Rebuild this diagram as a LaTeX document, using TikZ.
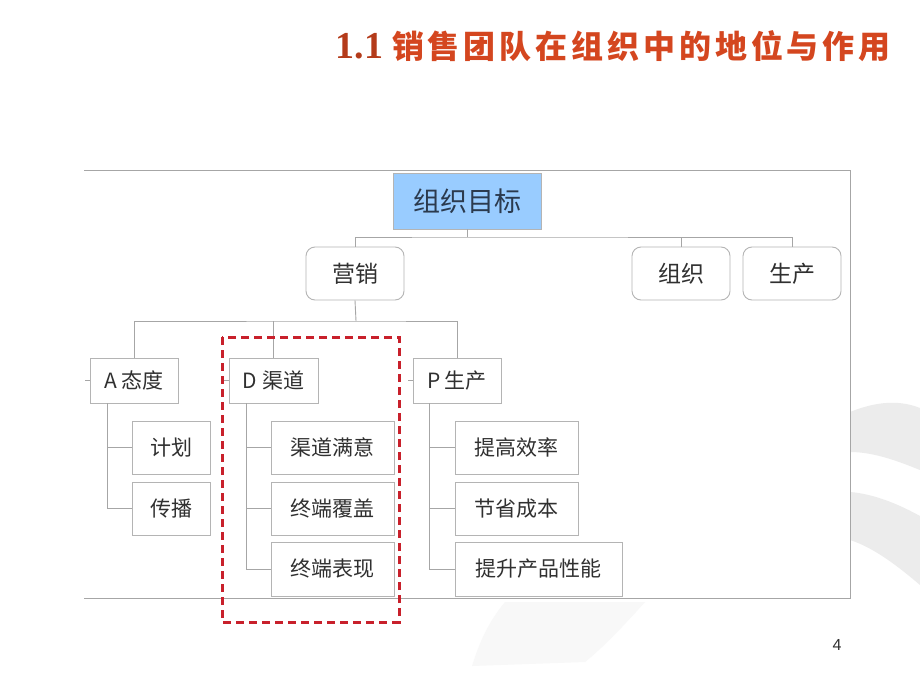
\documentclass[tikz,border=0pt]{standalone}
\usepackage{fontspec}
\setmainfont{Liberation Sans}
\newfontfamily\cjk{Noto Sans CJK SC}
\newfontfamily\titleserif{Liberation Serif}
\definecolor{linegray}{HTML}{A6A6A6}
\definecolor{boxgray}{HTML}{B4B4B4}
\definecolor{goalblue}{HTML}{99CCFF}
\definecolor{goaltext}{HTML}{2B3A4E}
\definecolor{txt}{HTML}{303030}
\definecolor{dashred}{HTML}{C8202B}
\definecolor{titlered}{HTML}{D4461F}
\definecolor{bgbrush}{HTML}{ECECEC}
\definecolor{bgfaint}{HTML}{F8F8F8}
\def\tg{\hspace{3.9pt}}
\tikzset{
  pbox/.style={draw=boxgray, line width=0.9pt, fill=white, inner sep=0pt, text=txt, font=\cjk\fontsize{21}{24}\selectfont},
  rbox/.style={pbox, rounded corners=9pt, minimum width=98pt, minimum height=53pt, font=\cjk\fontsize{23}{26}\selectfont},
  goalbox/.style={draw=boxgray, line width=0.9pt, fill=goalblue, inner sep=0pt, text=goaltext, minimum width=148pt, minimum height=56pt, font=\cjk\fontsize{27}{30}\selectfont},
  conn/.style={draw=linegray, line width=0.9pt},
}
\begin{document}
\begin{tikzpicture}[x=1pt,y=-1pt]
\useasboundingbox (0,0) rectangle (920,690);
\fill[white] (0,0) rectangle (920,690);
% background brush strokes
\fill[bgbrush] (850,412) .. controls (870,404) and (895,398) .. (920,408) -- (920,470) .. controls (900,462) and (875,452) .. (850,452) -- cycle;
\fill[bgbrush] (850,492) .. controls (875,494) and (900,505) .. (920,516) -- (920,585) .. controls (900,568) and (875,548) .. (850,540) -- cycle;
\fill[bgfaint] (505,602) -- (645,602) .. controls (620,630) and (600,650) .. (585,662) -- (472,666) .. controls (480,640) and (490,620) .. (505,602) -- cycle;
% frame
\fill[white] (84,170) rectangle (850,598);
\draw[linegray, line width=1pt] (84,170) -- (850,170) -- (850,598) -- (84,598);
% title
\node[anchor=east, inner sep=0pt] (title) at (891,46) {{\titleserif\bfseries\color{titlered!85!black}\fontsize{38}{40}\selectfont 1.1}\hspace{9pt}{\cjk\bfseries\color{titlered}\fontsize{32}{36}\selectfont 销\tg 售\tg 团\tg 队\tg 在\tg 组\tg 织\tg 中\tg 的\tg 地\tg 位\tg 与\tg 作\tg 用}};
% level 0
\node[goalbox] (goal) at (467,201) {组织目标};
% level 1
\node[rbox] (mkt) at (355,273.5) {营销};
\node[rbox] (org) at (681,273.5) {组织};
\node[rbox] (prd) at (792,273.5) {生产};
% level 2
\node[pbox, minimum width=88pt, minimum height=45pt] (A) at (134,380.5) {A {\cjk 态度}};
\node[pbox, minimum width=89pt, minimum height=45pt] (D) at (273.5,380.5) {D {\cjk 渠道}};
\node[pbox, minimum width=88pt, minimum height=45pt] (P) at (457,380.5) {P {\cjk 生产}};
% level 3
\node[pbox, minimum width=78pt, minimum height=53pt] (jh) at (171,447.5) {计划};
\node[pbox, minimum width=78pt, minimum height=53pt] (cb) at (171,508.5) {传播};
\node[pbox, minimum width=123pt, minimum height=53pt] (qd) at (332.5,447.5) {渠道满意};
\node[pbox, minimum width=123pt, minimum height=53pt] (zf) at (332.5,508.5) {终端覆盖};
\node[pbox, minimum width=123pt, minimum height=54pt] (zb) at (332.5,569) {终端表现};
\node[pbox, minimum width=123pt, minimum height=53pt] (tgx) at (516.5,447.5) {提高效率};
\node[pbox, minimum width=123pt, minimum height=53pt] (jy) at (516.5,508.5) {节省成本};
\node[pbox, minimum width=167pt, minimum height=54pt] (ts) at (538.5,569) {提升产品性能};
% connectors level 0-1
\coordinate (bus1) at (467,237);
\draw[conn] (goal.south) -- (bus1);
\draw[conn] (mkt.north) |- (bus1) -| (prd.north);
\draw[conn] (org.north) -- (org.north |- bus1);
% connectors level 1-2
\coordinate (bus2) at (356,321);
\draw[conn] (mkt.south) -- (bus2);
\draw[conn] (A.north) |- (bus2) -| (P.north);
\draw[conn] (D.north) -- (D.north |- bus2);
% small stubs
\draw[conn] (A.west) -- ++(-5,0);
\draw[conn] (D.west) -- ++(-5,0);
\draw[conn] (P.west) -- ++(-5,0);
% connectors level 2-3
\coordinate (av) at ([xshift=-27pt]A.south);
\draw[conn] (av) |- (cb.west);
\draw[conn] (av |- jh.west) -- (jh.west);
\coordinate (dv) at ([xshift=-27.5pt]D.south);
\draw[conn] (dv) |- (zb.west);
\draw[conn] (dv |- qd.west) -- (qd.west);
\draw[conn] (dv |- zf.west) -- (zf.west);
\coordinate (pv) at ([xshift=-28pt]P.south);
\draw[conn] (pv) |- (ts.west);
\draw[conn] (pv |- tgx.west) -- (tgx.west);
\draw[conn] (pv |- jy.west) -- (jy.west);
% dashed highlight
\draw[dashred, line width=3pt, dash pattern=on 8pt off 5pt] (222,337) rectangle (399,622);
% page number
\node[font=\fontsize{16}{18}\selectfont, text=txt, inner sep=0pt] (pg) at (837,645) {4};
\end{tikzpicture}
\end{document}
